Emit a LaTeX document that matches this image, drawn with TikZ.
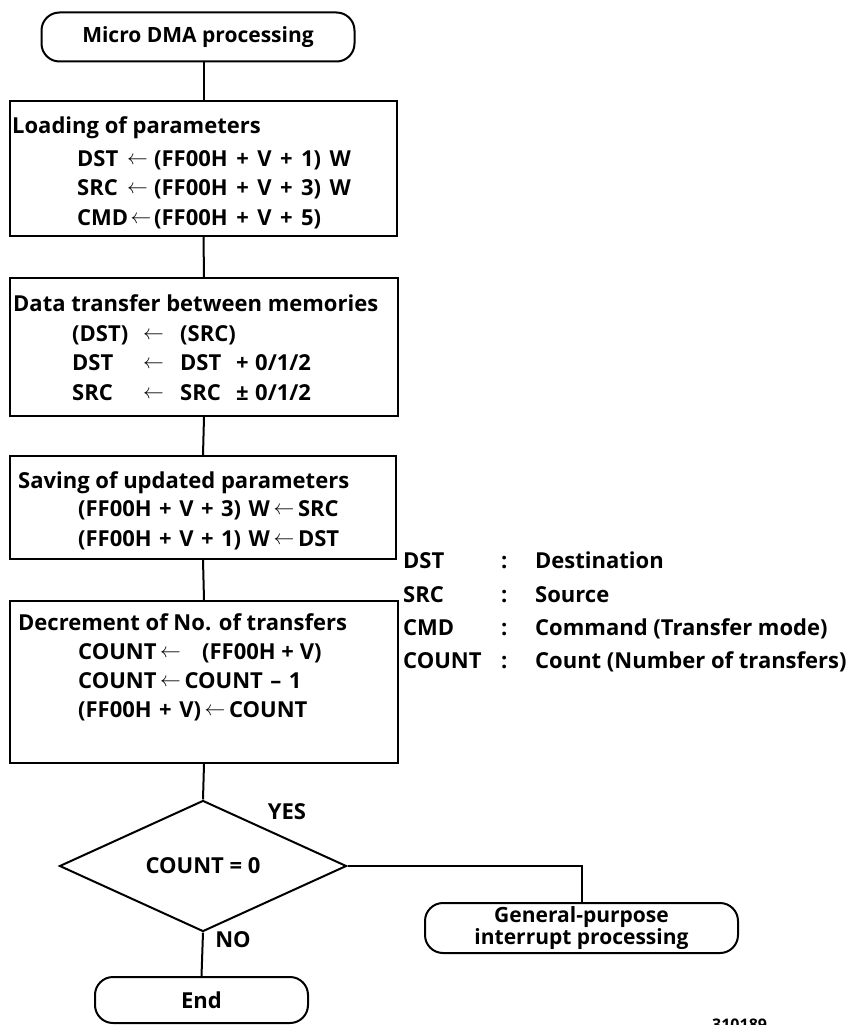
\documentclass[tikz,border=0pt]{standalone}
\usepackage{fontspec}
\setmainfont{Open Sans}
\usetikzlibrary{shapes.geometric}
\newcommand\fsz{\bfseries\fontsize{22}{26}\selectfont}
\newcommand\fszwide{\fsz\spaceskip=8.5pt\relax}
\newcommand\fszmid{\fsz\spaceskip=7.5pt\relax}
\newcommand\larr{\raisebox{1.5pt}{$\leftarrow$}}
\begin{document}
\begin{tikzpicture}[x=1pt,y=-1pt,
  txt/.style={font=\fsz, inner sep=0pt, anchor=base west},
  wide/.style={font=\fszwide, inner sep=0pt, anchor=base west},
  mid/.style={font=\fszmid, inner sep=0pt, anchor=base west},
  ctxt/.style={font=\fsz, inner sep=0pt},
  box/.style={draw, line width=2pt, anchor=north west, inner sep=0pt},
  term/.style={draw, line width=2pt, rounded corners=18pt, inner sep=0pt, font=\fsz},
  dec/.style={draw, diamond, line width=2pt, inner sep=0pt, font=\fsz},
  conn/.style={line width=2pt}]
\clip (0,0) rectangle (849,1025);
\fill[white] (0,0) rectangle (849,1025);
% start
\node[term, minimum width=313pt, minimum height=49pt, font=\bfseries\fontsize{21}{26}\selectfont] (start) at (198,37) {Micro DMA processing};
% box 1
\node[box, minimum width=387pt, minimum height=135pt] (b1) at (9,100) {};
\node[txt] (b1t) at (12,133) {Loading of parameters};
\node[txt] (b1a) at (77,166) {DST};
\node[txt, anchor=base east] (b1b) at (148,166) {\larr};
\node[wide] (b1c) at (154,166) {(FF00H + V + 1) W};
\node[txt] (b1d) at (77,195) {SRC};
\node[txt, anchor=base east] (b1e) at (148,195) {\larr};
\node[wide] (b1f) at (154,195) {(FF00H + V + 3) W};
\node[txt] (b1g) at (77,225) {CMD};
\node[txt, anchor=base west] (b1h) at ([xshift=2pt]b1g.base east) {\larr};
\node[wide] (b1i) at (154,225) {(FF00H + V + 5)};
% box 2
\node[box, minimum width=388pt, minimum height=138pt] (b2) at (9,277) {};
\node[txt] (b2t) at (13,311) {Data transfer between memories};
\node[txt] (b2a) at (72,341) {(DST)};
\node[txt] (b2b) at (143,341) {\larr};
\node[txt] (b2c) at (180,341) {(SRC)};
\node[txt] (b2d) at (72,370) {DST};
\node[txt] (b2e) at (143,370) {\larr};
\node[txt] (b2f) at (180,370) {DST};
\node[txt] (b2g) at (236,370) {+};
\node[txt] (b2h) at (255,370) {0/1/2};
\node[txt] (b2i) at (72,400) {SRC};
\node[txt] (b2j) at (143,400) {\larr};
\node[txt] (b2k) at (180,400) {SRC};
\node[txt] (b2l) at (236,400) {±};
\node[txt] (b2m) at (255,400) {0/1/2};
% box 3
\node[box, minimum width=386pt, minimum height=103pt] (b3) at (9,455) {};
\node[txt] (b3t) at (18,488) {Saving of updated parameters};
\node[mid] (b3a) at (78,516) {(FF00H + V + 3) W\,\larr\,SRC};
\node[mid] (b3b) at (78,546) {(FF00H + V + 1) W\,\larr\,DST};
% box 4
\node[box, minimum width=388pt, minimum height=162pt] (b4) at (9,600) {};
\node[txt] (b4t) at (18,630) {Decrement of No. of transfers};
\node[txt] (b4a) at (78,659) {COUNT\,\larr};
\node[txt] (b4b) at (202,659) {(FF00H + V)};
\node[mid] (b4c) at (78,688) {COUNT\,\larr\,COUNT -- 1};
\node[mid] (b4d) at (78,717) {(FF00H + V)\,\larr\,COUNT};
% legend
\node[txt] (l1a) at (403,568) {DST};
\node[txt] (l1b) at (501,568) {:};
\node[txt] (l1c) at (535,568) {Destination};
\node[txt] (l2a) at (403,602) {SRC};
\node[txt] (l2b) at (501,602) {:};
\node[txt] (l2c) at (535,602) {Source};
\node[txt] (l3a) at (403,635) {CMD};
\node[txt] (l3b) at (501,635) {:};
\node[txt] (l3c) at (535,635) {Command (Transfer mode)};
\node[txt] (l4a) at (403,668) {COUNT};
\node[txt] (l4b) at (501,668) {:};
\node[txt] (l4c) at (535,668) {Count (Number of transfers)};
% decision
\node[dec, minimum width=287pt, minimum height=125pt] (d) at (203,866) {COUNT = 0};
\node[ctxt] (yes) at (287,812) {YES};
\node[ctxt] (no) at (233,940) {NO};
% end terminals
\node[term, minimum width=313pt, minimum height=50pt, align=center, font=\bfseries\fontsize{21}{19}\selectfont] (gp) at (581.5,928) {General-purpose\\interrupt processing};
\node[term, minimum width=213pt, minimum height=46pt] (end) at (201.5,1000) {End};
\node[txt, font=\bfseries\fontsize{16}{18}\selectfont] (ref) at (712,1030) {310189};
% connectors
\draw[conn] (b1.north) -- (b1.north |- start.south);
\draw[conn] (b1.south) -- (b2.north);
\draw[conn] (b2.south) -- (b3.north);
\draw[conn] (b3.south) -- (b4.north);
\draw[conn] (b4.south) -- (d.north);
\draw[conn] (d.south) -- (end.north);
\draw[conn] (d.east) -| (gp.north);
\end{tikzpicture}
\end{document}
